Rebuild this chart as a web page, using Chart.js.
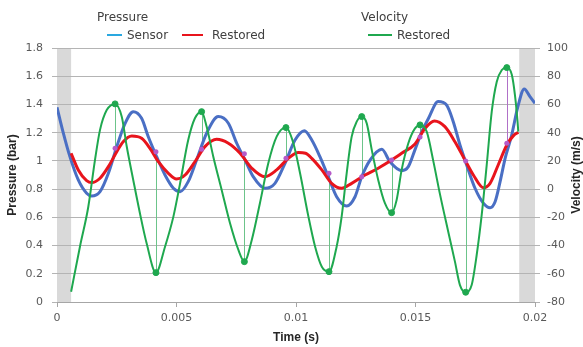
<!DOCTYPE html>
<html>
<head>
<meta charset="utf-8">
<script src="https://cdn.jsdelivr.net/npm/chart.js@4"></script>
<style>
  body { margin: 0; background: #fff; }
  #wrap { position: relative; width: 583px; height: 347px; }
  .lg { position: absolute; font: 12px "DejaVu Sans", sans-serif; color: #404040; line-height: 16px; white-space: nowrap; }
  .sw { position: absolute; height: 2px; }
</style>
</head>
<body>
<div id="wrap">
  <canvas id="chart" width="583" height="347"></canvas>
  <div class="lg" style="left:97px;top:9px">Pressure</div>
  <div class="sw" style="left:107px;top:34px;width:15px;background:#2aa8e0"></div>
  <div class="lg" style="left:127px;top:27px">Sensor</div>
  <div class="sw" style="left:182px;top:34px;width:21px;background:#e8141c"></div>
  <div class="lg" style="left:212px;top:27px">Restored</div>
  <div class="lg" style="left:361px;top:9px">Velocity</div>
  <div class="sw" style="left:368px;top:34px;width:24px;background:#1fa84f"></div>
  <div class="lg" style="left:397px;top:27px">Restored</div>
</div>
<script>
// time axis ticks and the shaded (unused) parts of the record
const timeTicks = [0, 0.005, 0.01, 0.015, 0.02];
const shadedRanges = [[0, 0.00059], [0.01934, 0.02]];

// pressure, sensor (blue)
const sensorTime = [0, 0.00026, 0.00054, 0.00089, 0.00124, 0.00145, 0.0018, 0.00215, 0.0025, 0.00285,
  0.00319, 0.00354, 0.00382, 0.00417, 0.00452, 0.00487, 0.00515, 0.00549, 0.00584, 0.00626,
  0.00675, 0.00717, 0.00752, 0.00787, 0.00821, 0.0087, 0.00912, 0.00954, 0.00996, 0.01035,
  0.01066, 0.011, 0.01135, 0.0117, 0.01212, 0.01247, 0.01275, 0.0131, 0.01359, 0.01393,
  0.01442, 0.0147, 0.01498, 0.01525, 0.01554, 0.01595, 0.0163, 0.01658, 0.01686, 0.01714,
  0.01749, 0.01784, 0.01812, 0.01833, 0.01854, 0.01875, 0.01902, 0.0193, 0.01955, 0.01979, 0.02];
const sensorPressure = [1.38, 1.2, 1.03, 0.865, 0.771, 0.751, 0.782, 0.912, 1.101, 1.266,
  1.349, 1.302, 1.171, 1.03, 0.9, 0.806, 0.782, 0.853, 1.006, 1.196,
  1.314, 1.267, 1.125, 1.006, 0.888, 0.806, 0.841, 0.983, 1.148, 1.214,
  1.148, 1.03, 0.888, 0.746, 0.68, 0.746, 0.888, 1.006, 1.082, 0.994,
  0.931, 0.959, 1.08, 1.2, 1.3, 1.42, 1.396, 1.278, 1.113, 0.971,
  0.806, 0.7, 0.668, 0.711, 0.853, 1.018, 1.18, 1.396, 1.51, 1.455, 1.408];

// pressure, restored (red)
const restoredTime = [0.00059, 0.00089, 0.00124, 0.00145, 0.0018, 0.00215, 0.0025, 0.00277, 0.00313, 0.00354,
  0.00389, 0.00424, 0.00466, 0.005, 0.00536, 0.00577, 0.00619, 0.00668, 0.00717, 0.00766,
  0.00815, 0.0087, 0.00919, 0.00968, 0.0101, 0.0104, 0.01066, 0.01108, 0.01149, 0.01191,
  0.01233, 0.01289, 0.01344, 0.014, 0.01442, 0.01498, 0.0154, 0.01579, 0.01623, 0.01665,
  0.01707, 0.01742, 0.01784, 0.01812, 0.01846, 0.01882, 0.0191, 0.0193];
const restoredPressure = [1.054, 0.936, 0.86, 0.846, 0.877, 0.959, 1.065, 1.136, 1.176, 1.16,
  1.089, 0.994, 0.912, 0.872, 0.9, 0.994, 1.101, 1.153, 1.125, 1.054,
  0.948, 0.888, 0.936, 1.018, 1.059, 1.054, 1.018, 0.936, 0.841, 0.806,
  0.841, 0.9, 0.948, 1.006, 1.054, 1.12, 1.231, 1.283, 1.243, 1.136,
  1.006, 0.9, 0.81, 0.841, 0.971, 1.113, 1.179, 1.203];

// velocity, restored (green)
const velocityTime = [0.00059, 0.00096, 0.00131, 0.00159, 0.0018, 0.00208, 0.00243, 0.00271, 0.00292, 0.00319,
  0.00347, 0.00375, 0.00414, 0.00452, 0.00487, 0.00515, 0.00549, 0.00577, 0.00605, 0.00626,
  0.00654, 0.00689, 0.00724, 0.00759, 0.00784, 0.00815, 0.00849, 0.00884, 0.00919, 0.00958,
  0.00989, 0.01017, 0.01052, 0.0108, 0.01108, 0.01138, 0.0117, 0.01191, 0.01212, 0.01233,
  0.01254, 0.01275, 0.01296, 0.01317, 0.01344, 0.01372, 0.014, 0.01421, 0.01442, 0.0147,
  0.01498, 0.01519, 0.01547, 0.01575, 0.01603, 0.01637, 0.01665, 0.01686, 0.0171, 0.01735,
  0.01756, 0.01777, 0.01798, 0.01819, 0.0184, 0.01861, 0.01882, 0.01903, 0.01916, 0.01927, 0.0193];
const velocity = [-72.7, -40.8, -12.5, 20.7, 42, 56, 60.4, 51.3, 30, 6.5,
  -17.1, -38.4, -59.2, -40.8, -19.5, 4.1, 34.8, 50.2, 54.9, 44.3,
  23, -0.6, -24.2, -43.1, -51.4, -36, -10, 18.3, 37.2, 43.6,
  32.5, 11.2, -19.5, -40.8, -55, -58.5, -40.8, -19.5, 11.2, 37.2,
  47.8, 51.4, 46.6, 27.8, 6.5, -10, -16.7, -7.7, 13.6, 32.5,
  43, 45.5, 40.7, 19.5, -4.1, -30.2, -51.4, -68, -73.1, -68,
  -46.7, -18.3, 17.2, 54.9, 76.1, 84.4, 86.1, 81, 66.8, 47.8, 40.7];

// velocity extremes and the restored pressure read at the same instants
const dropTime = [0.00243, 0.00414, 0.00605, 0.00784, 0.00958, 0.01138, 0.01275, 0.014, 0.01519, 0.0171, 0.01882];
const dropVelocity = [60.4, -59.2, 54.9, -51.4, 43.6, -58.5, 51.4, -16.7, 45.5, -73.1, 86.1];
const dropPressure = [1.09, 1.065, 1.082, 1.05, 1.018, 0.912, 0.888, 1.006, 1.17, 1.0, 1.125];

const toPoints = (xs, ys) => xs.map((x, i) => ({ x: x, y: ys[i] }));

Chart.defaults.font.family = '"DejaVu Sans", sans-serif';
Chart.defaults.font.size = 11;
Chart.defaults.color = '#595959';

const bands = {
  id: 'bands',
  beforeDraw(chart) {
    const { ctx, chartArea: a, scales: { x } } = chart;
    ctx.save();
    ctx.fillStyle = '#d9d9d9';
    shadedRanges.forEach(([t0, t1]) => {
      const x0 = x.getPixelForValue(t0), x1 = x.getPixelForValue(t1);
      ctx.fillRect(x0, a.top, x1 - x0, a.bottom - a.top);
    });
    ctx.restore();
  }
};

const drops = {
  id: 'drops',
  beforeDatasetsDraw(chart) {
    const { ctx, scales: { x, y, y1 } } = chart;
    ctx.save();
    ctx.lineWidth = 1;
    dropTime.forEach((t, i) => {
      const px = Math.round(x.getPixelForValue(t)) + 0.5;
      ctx.strokeStyle = i === dropTime.length - 1 ? '#b070c8' : '#6cc48a';
      ctx.beginPath();
      ctx.moveTo(px, y1.getPixelForValue(dropVelocity[i]));
      ctx.lineTo(px, y.getPixelForValue(dropPressure[i]));
      ctx.stroke();
    });
    ctx.restore();
  },
  afterDatasetsDraw(chart) {
    const { ctx, scales: { x, y } } = chart;
    ctx.save();
    ctx.fillStyle = '#b55ac8';
    dropTime.forEach((t, i) => {
      ctx.beginPath();
      ctx.arc(x.getPixelForValue(t), y.getPixelForValue(dropPressure[i]), 2.5, 0, Math.PI * 2);
      ctx.fill();
    });
    // right axis title, reading bottom to top like the left one
    ctx.fillStyle = '#262626';
    ctx.font = 'bold 12px "Liberation Sans", sans-serif';
    ctx.textAlign = 'center';
    ctx.textBaseline = 'middle';
    ctx.translate(577, (chart.chartArea.top + chart.chartArea.bottom) / 2);
    ctx.rotate(-Math.PI / 2);
    ctx.fillText('Velocity (m/s)', 0, 0);
    ctx.restore();
  }
};

new Chart(document.getElementById('chart'), {
  type: 'line',
  data: {
    datasets: [
      {
        label: 'Velocity extremes',
        type: 'scatter',
        data: toPoints(dropTime, dropVelocity),
        yAxisID: 'y1',
        pointRadius: 3,
        pointBackgroundColor: '#1fa84f',
        pointBorderColor: '#1fa84f',
        order: -1
      },
      {
        label: 'Velocity Restored',
        data: toPoints(velocityTime, velocity),
        yAxisID: 'y1',
        borderColor: '#1fa84f',
        borderWidth: 2,
        pointRadius: 0,
        cubicInterpolationMode: 'monotone',
        order: 0
      },
      {
        label: 'Pressure Restored',
        data: toPoints(restoredTime, restoredPressure),
        yAxisID: 'y',
        borderColor: '#e8141c',
        borderWidth: 3,
        pointRadius: 0,
        cubicInterpolationMode: 'monotone',
        order: 1
      },
      {
        label: 'Pressure Sensor',
        data: toPoints(sensorTime, sensorPressure),
        yAxisID: 'y',
        borderColor: '#4a6fc4',
        borderWidth: 3,
        pointRadius: 0,
        cubicInterpolationMode: 'monotone',
        order: 2
      }
    ]
  },
  options: {
    responsive: false,
    animation: false,
    devicePixelRatio: 1,
    layout: { padding: { top: 48, left: 0, right: 0, bottom: 0 } },
    plugins: { legend: { display: false }, tooltip: { enabled: false } },
    scales: {
      x: {
        type: 'linear',
        min: 0,
        max: 0.02,
        afterBuildTicks: s => { s.ticks = timeTicks.map(v => ({ value: v })); },
        afterFit: s => { s.height = 45; },
        ticks: { padding: 5, callback: v => String(+v.toFixed(3)) },
        grid: { drawOnChartArea: false, drawTicks: true, tickLength: 5, color: '#a6a6a6' },
        border: { color: '#a6a6a6' },
        title: { display: true, text: 'Time (s)', color: '#262626', padding: { top: 0, bottom: 2 },
          font: { family: '"Liberation Sans", sans-serif', size: 12, weight: 'bold' } }
      },
      y: {
        position: 'left',
        min: 0,
        max: 1.8,
        ticks: { stepSize: 0.2, padding: 9, callback: v => String(+v.toFixed(1)) },
        afterFit: s => { s.width = 57; },
        grid: { color: '#b4b4b4', tickLength: 5 },
        border: { display: false },
        title: { display: true, text: 'Pressure (bar)', color: '#262626', padding: { top: 5, bottom: 0 },
          font: { family: '"Liberation Sans", sans-serif', size: 12, weight: 'bold' } }
      },
      y1: {
        position: 'right',
        min: -80,
        max: 100,
        ticks: { stepSize: 20, padding: 7 },
        afterFit: s => { s.width = 48; },
        grid: { drawOnChartArea: false, color: '#b4b4b4', tickLength: 5 },
        border: { display: false }
      }
    }
  },
  plugins: [bands, drops]
});
</script>
</body>
</html>
